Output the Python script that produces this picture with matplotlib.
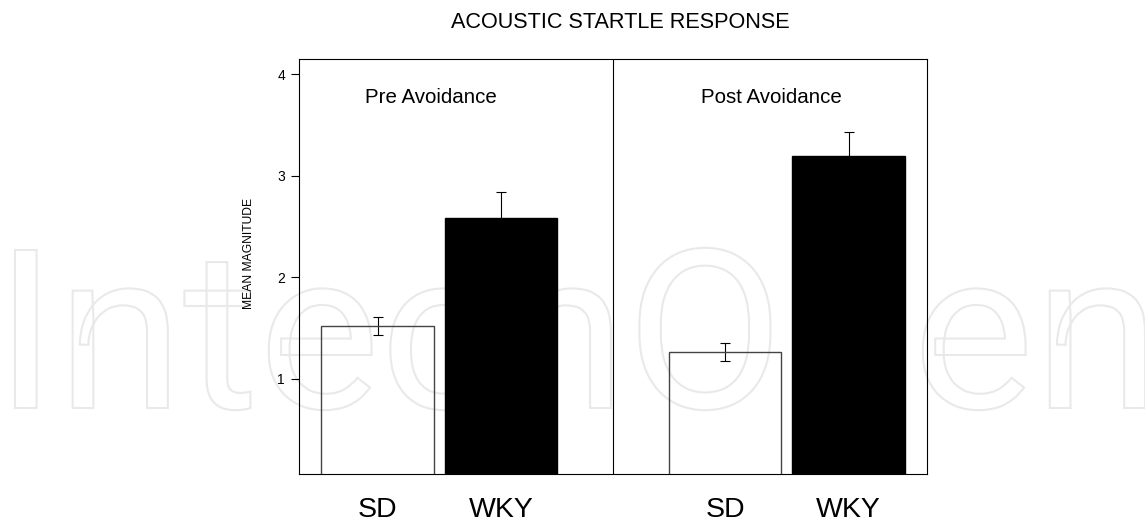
import matplotlib
matplotlib.use('Agg')
import matplotlib.pyplot as plt
from matplotlib.textpath import TextPath
from matplotlib.patches import PathPatch
from matplotlib.font_manager import FontProperties
from matplotlib.transforms import Affine2D, IdentityTransform

plt.rcParams['font.family'] = ['Liberation Sans', 'DejaVu Sans']

# data
groups = ['Pre Avoidance', 'Post Avoidance']
strains = ['SD', 'WKY']
means = [1.52, 2.58, 1.26, 3.19]
sems = [0.09, 0.26, 0.09, 0.24]
bar_x = [0.7, 1.8, 3.8, 4.9]
colors = ['none', 'black', 'none', 'black']
edges = ['#444444', 'black', '#444444', 'black']
yticks = [1, 2, 3, 4]

W, H = 1145, 524
fig = plt.figure(figsize=(W / 100, H / 100), dpi=100)
fig.patch.set_facecolor('white')

#* watermark (outlined text behind the plot)
fp = FontProperties(family='Roboto')
tp = TextPath((0, 0), 'IntechOpen', size=1, prop=fp)
ip = TextPath((0, 0), 'I', size=1, prop=fp)
ext = tp.get_extents()
cap = ip.get_extents().y1
sx = 1130 / (ext.x1 - ext.x0)
sy = 158 / cap
tr = Affine2D().translate(-ext.x0, 0).scale(sx, sy).translate(15, H - 408)
wm = PathPatch(tr.transform_path(tp), facecolor='none', edgecolor='#e9e9e9',
               lw=1.5, transform=IdentityTransform(), zorder=-1)
fig.patches.append(wm)

ax = fig.add_axes([299 / W, 1 - 474 / H, 628 / W, (474 - 59) / H])
ax.set_facecolor('none')

ax.errorbar(bar_x, means, yerr=sems, fmt='none', ecolor='black',
            elinewidth=0.8, capsize=3.6, capthick=0.8, zorder=1)
ax.bar(bar_x, means, width=1.0, color=colors, edgecolor=edges,
       linewidth=1.0, zorder=2)

ax.axvline(2.8, color='black', lw=0.8, zorder=3)

ax.set_xlim(0, 5.6)
ax.set_ylim(0.06, 4.15)
ax.set_yticks(yticks)
ax.set_xticks(bar_x)
ax.set_xticklabels(strains * 2, fontsize=20.5)
ax.tick_params(axis='x', length=0, pad=16.5)
ax.tick_params(axis='y', direction='out', length=6, width=0.8,
               labelsize=10, pad=4)
for s in ax.spines.values():
    s.set_linewidth(0.8)

ax.text(1.18, 3.716, groups[0], ha='center', va='baseline', fontsize=14.8)
ax.text(4.21, 3.716, groups[1], ha='center', va='baseline', fontsize=14.8)

fig.text(249 / W, 1 - 253 / H, 'MEAN MAGNITUDE', rotation=90,
         ha='center', va='center', fontsize=8.7)
fig.text(620 / W, 1 - 23 / H, 'ACOUSTIC STARTLE RESPONSE',
         ha='center', va='center', fontsize=15.6)

fig.savefig('out.png', dpi=100)
